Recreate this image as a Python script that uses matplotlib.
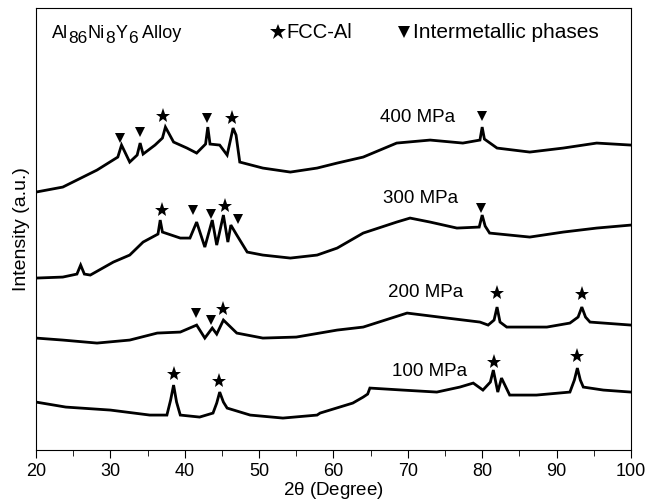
import matplotlib.pyplot as plt
from matplotlib.transforms import offset_copy

plt.rcParams['font.family'] = ['Liberation Sans', 'DejaVu Sans']
plt.rcParams['mathtext.fontset'] = 'custom'
plt.rcParams['mathtext.rm'] = 'Liberation Sans'

# 2theta (deg) / intensity (a.u.) for each pressure
x_400 = [20, 23.6, 28.2, 31.0, 31.5, 32.6, 33.6, 34.0, 34.4, 36.0, 37.0, 37.4, 38.5, 40.3, 41.6, 42.8,
         43.1, 43.4, 44.7, 45.7, 46.5, 46.9, 47.4, 50.5, 54.2, 57.8, 60.5, 64.0, 68.5, 73.0, 77.4,
         79.7, 80.0, 80.3, 82.0, 86.4, 90.9, 95.4, 100]
y_400 = [258, 263, 280, 293, 305, 288, 295, 307, 296, 305, 312, 323, 308, 302, 297, 306,
         323, 306, 305, 295, 322, 315, 288, 282, 278, 282, 287, 293, 307, 310, 307,
         310, 323, 311, 302, 298, 302, 307, 305]

x_300 = [20, 23.6, 25.5, 26.0, 26.5, 27.3, 30.4, 32.6, 34.4, 36.4, 36.7, 37.0, 39.4, 40.7, 41.6,
         42.7, 43.7, 44.3, 45.2, 45.8, 46.2, 47.0, 48.4, 50.5, 54.2, 57.8, 60.5, 64.0, 68.5, 70.3,
         73.0, 76.6, 79.6, 80.0, 80.4, 81.0, 86.4, 90.9, 95.4, 100]
y_300 = [172, 173, 176, 185, 176, 175, 188, 195, 208, 216, 230, 218, 212, 212, 228,
         203, 230, 205, 235, 208, 225, 215, 198, 195, 192, 195, 202, 217, 228, 232,
         228, 222, 223, 235, 224, 217, 213, 218, 222, 225]

x_200 = [20, 23.6, 28.2, 32.6, 36.3, 39.4, 41.6, 42.7, 43.7, 44.3, 45.2, 47.0, 50.5, 55.0, 60.5,
         64.0, 69.9, 75.3, 79.7, 80.8, 81.6, 82.0, 82.4, 83.3, 88.7, 91.8, 92.9, 93.4, 93.9,
         94.5, 100]
y_200 = [112, 110, 107, 110, 117, 118, 125, 112, 122, 116, 130, 117, 112, 113, 120,
         123, 137, 132, 128, 125, 130, 143, 128, 123, 123, 127, 133, 143, 133,
         128, 125]

x_100 = [20, 24.0, 30.0, 35.3, 37.6, 38.1, 38.5, 38.9, 39.4, 42.0, 43.8, 44.3, 44.7, 45.2, 45.7,
         48.8, 53.2, 57.8, 58.2, 62.6, 64.0, 64.6, 64.9, 69.3, 73.9, 77.0, 78.8, 80.1, 81.1,
         81.5, 82.1, 82.6, 83.7, 87.3, 91.8, 92.4, 92.8, 93.2, 93.6, 96.3, 100]
y_100 = [48, 43, 40, 35, 35, 50, 65, 48, 35, 33, 37, 47, 58, 48, 42,
         35, 32, 35, 37, 47, 53, 56, 62, 60, 58, 63, 67, 60, 68,
         80, 58, 72, 55, 55, 58, 70, 82, 70, 63, 60, 58]

# peak marks (position, height)
star_x = [37.1, 46.4, 37.0, 45.4, 45.2, 82.0, 93.4, 38.5, 44.6, 81.6, 92.8]
star_y = [334, 332, 240, 244, 141, 157, 156, 76, 69, 88, 94]
tri_x = [31.3, 34.0, 43.0, 80.0, 41.1, 43.5, 47.2, 79.8, 41.5, 43.5]
tri_y = [312, 318, 332, 334, 240, 236, 231, 242, 137, 130]

curves = [(x_400, y_400), (x_300, y_300), (x_200, y_200), (x_100, y_100)]
labels = ['400 MPa', '300 MPa', '200 MPa', '100 MPa']
label_x = [66.3, 66.6, 67.4, 67.9]
label_y = [333, 252, 158, 79]

fig = plt.figure(figsize=(6.48, 5.04), dpi=100)
ax = fig.add_axes([0.0556, 0.107, 0.918, 0.877])

for (xs, ys) in curves:
    ax.plot(xs, ys, color='black', lw=2.0, solid_joinstyle='miter')

ax.plot(star_x, star_y, '*', color='black', ms=11, mew=0)
ax.plot(tri_x, tri_y, 'v', color='black', ms=7, mew=0)

for lab, lx, ly in zip(labels, label_x, label_y):
    ax.text(lx, ly, lab, fontsize=13.5, va='center', ha='left')

# alloy name, subscripts nearly full size as in the original
renderer = fig.canvas.get_renderer()
pieces = [('Al', 0), ('86', -5), ('Ni', 0), ('8', -5), ('Y', 0), ('6', -5), (' Alloy', 0)]
dx = 0
for s, dy in pieces:
    fs = 13 if dy == 0 else 12.5
    t = ax.text(0.026, 0.943, s, fontsize=fs, va='center', ha='left',
                transform=offset_copy(ax.transAxes, fig, x=dx, y=dy, units='dots'))
    dx += t.get_window_extent(renderer).width + 0.5

# legend
ax.plot([0.406], [0.945], '*', color='black', ms=12, mew=0, transform=ax.transAxes, clip_on=False)
ax.text(0.421, 0.945, 'FCC-Al', fontsize=14.5, va='center', ha='left', transform=ax.transAxes)
ax.plot([0.618], [0.945], 'v', color='black', ms=8, mew=0, transform=ax.transAxes, clip_on=False)
ax.text(0.634, 0.945, 'Intermetallic phases', fontsize=15, va='center', ha='left',
        transform=ax.transAxes)

ax.set_xlim(20, 100)
ax.set_ylim(0, 442)
ax.set_xticks(range(20, 101, 10))
ax.set_xticks(range(25, 100, 10), minor=True)
ax.set_yticks([])
ax.tick_params(axis='x', which='major', direction='out', length=6, labelsize=13)
ax.tick_params(axis='x', which='minor', direction='out', length=4)
ax.set_xlabel(r'2$\mathregular{\theta}$ (Degree)', fontsize=13.5, labelpad=0)
ax.set_ylabel('Intensity (a.u.)', fontsize=14, labelpad=4)

fig.savefig('out.png', dpi=100)
